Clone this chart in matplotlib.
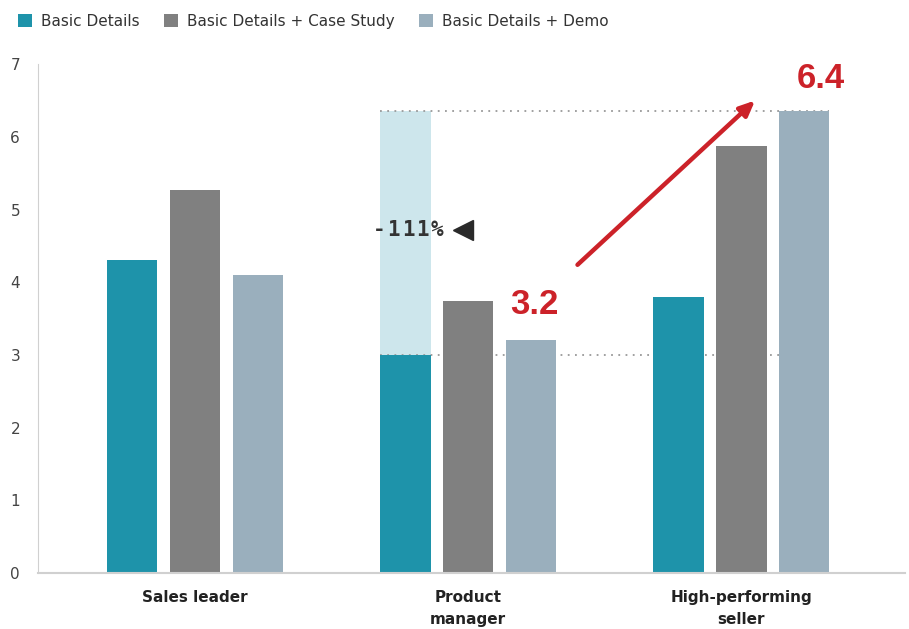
import numpy as np
import matplotlib.pyplot as plt
from matplotlib.patches import Patch

categories = ['Sales leader', 'Product\nmanager', 'High-performing\nseller']
series = ['Basic Details', 'Basic Details + Case Study', 'Basic Details + Demo']
basic = [4.3, 3.0, 3.8]
case_study = [5.27, 3.74, 5.87]
demo = [4.1, 3.2, 6.35]
colors = ['#1e93aa', '#808080', '#9aafbd']
ghost_color = '#cde6ec'
red = '#cc2229'

fig = plt.figure(figsize=(9.09, 6.29), dpi=100)
ax = fig.add_axes([0.042, 0.089, 0.954, 0.809])

x = np.arange(len(categories))
width = 0.184
step = 0.23

# dotted reference lines (behind bars)
ax.hlines(demo[2], x[1] - step - width / 2, x[2] + step + width / 2,
          colors='#999999', linestyles=(0, (1, 3)), linewidth=1.3, zorder=1)
ax.hlines(basic[1], x[1] - step - width / 2, x[2] + step - width / 2,
          colors='#999999', linestyles=(0, (1, 3)), linewidth=1.3, zorder=1)

# ghost bar showing the target level for product manager
ax.bar(x[1] - step, demo[2], width, color=ghost_color, zorder=0.5)

for i, (vals, c) in enumerate(zip([basic, case_study, demo], colors)):
    ax.bar(x + (i - 1) * step, vals, width, color=c, zorder=2)

ax.set_xlim(-0.574, 2.6)
ax.set_ylim(0, 7)
ax.set_yticks(range(8))
ax.set_xticks(x)
ax.set_xticklabels(categories, fontweight='bold', fontsize=11.5, color='#222222',
                   linespacing=1.6)
ax.tick_params(axis='both', length=0, labelsize=11, colors='#444444')
ax.tick_params(axis='x', pad=12, colors='#222222')
ax.tick_params(axis='y', pad=13)

for s in ['top', 'right']:
    ax.spines[s].set_visible(False)
ax.spines['left'].set_color('#d0d0d0')
ax.spines['bottom'].set_color('#d0d0d0')
ax.spines['bottom'].set_linewidth(1.5)

# annotations
ax.annotate('', xy=(2.05, 6.5), xytext=(1.40, 4.24),
            arrowprops=dict(arrowstyle='-|>,head_length=0.9,head_width=0.4',
                            color=red, lw=3.2, shrinkA=0, shrinkB=0), zorder=5)
ax.text(2.29, 6.8, '6.4', color=red, fontsize=25, fontweight='bold',
        family='Liberation Sans', ha='center', va='center')
ax.text(1.243, 3.69, '3.2', color=red, fontsize=25, fontweight='bold',
        family='Liberation Sans', ha='center', va='center')

# letter-spaced change label
label = '-111%'
for k, ch in enumerate(label):
    ax.annotate(ch, xy=(0.78, 4.72), xytext=((k - 2) * 10.5, 0),
                textcoords='offset points', color='#333333', fontsize=15,
                fontweight='bold', family='DejaVu Sans Mono',
                ha='center', va='center', zorder=6)
ax.plot([0.98], [4.72], marker='<', markersize=15, color='#2a2a2a', zorder=6)

handles = [Patch(facecolor=c) for c in colors]
fig.legend(handles, series, loc='upper left', bbox_to_anchor=(0.005, 1.0),
           ncol=3, frameon=False, fontsize=11, handlelength=0.9, handleheight=0.9,
           handletextpad=0.6, columnspacing=1.6, labelcolor='#333333')

fig.savefig('out.png', dpi=100)
